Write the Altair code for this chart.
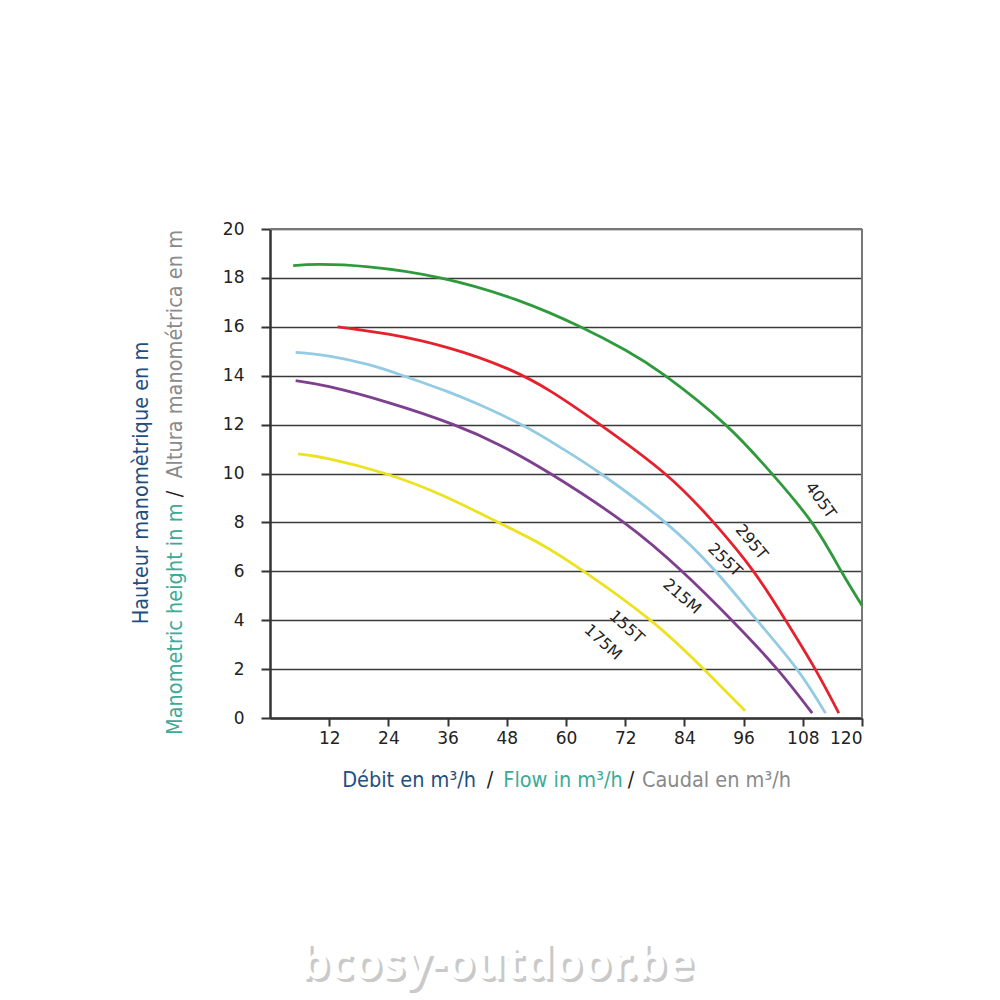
import altair as alt
import pandas as pd

# ---- curve data (flow m3/h, head m) ----
x_405T = [4.7, 10, 20, 34.5, 50, 62.9, 72, 80.1, 92.3, 101.7, 109.8, 115.8, 120]
y_405T = [18.5, 18.55, 18.45, 18.0, 17.1, 16.0, 15.05, 14.0, 12.0, 10.0, 8.0, 6.0, 4.6]

x_295T = [13.7, 24, 36, 48, 57, 66.9, 80, 89.9, 98, 104.5, 110.5, 115.3]
y_295T = [16.0, 15.7, 15.15, 14.3, 13.35, 12.0, 10.0, 8.0, 6.0, 4.0, 2.0, 0.2]

x_255T = [5.2, 12, 20, 27, 36, 42.6, 51.4, 59, 67, 80.1, 90.3, 98.7, 106.8, 112.6]
y_255T = [14.95, 14.8, 14.45, 14.0, 13.35, 12.8, 11.95, 11.05, 10.0, 8.0, 6.0, 4.0, 2.0, 0.2]

x_215M = [5.2, 12, 24, 37.2, 46.7, 56.8, 71.7, 83.5, 93.6, 102.8, 109.9]
y_215M = [13.8, 13.55, 12.9, 12.0, 11.15, 10.0, 8.0, 6.0, 4.0, 2.0, 0.2]

x_175M = [5.7, 12, 23.3, 35, 46.3, 55, 63.6, 77.1, 87.9, 96.3]
y_175M = [10.8, 10.6, 10.0, 9.1, 8.0, 7.1, 6.0, 4.0, 2.0, 0.3]

series = {
    "405T": (x_405T, y_405T),
    "295T": (x_295T, y_295T),
    "255T": (x_255T, y_255T),
    "215M": (x_215M, y_215M),
    "155T/175M": (x_175M, y_175M),
}
series_names = list(series.keys())
series_colors = ["#2f9a3c", "#e5212d", "#93cbe4", "#7d3f8e", "#ece21e"]

# curve labels (anchor in data units)
label_text = ["405T", "295T", "255T", "215M", "155T", "175M"]
label_x = [111.6, 97.6, 92.2, 83.5, 72.3, 67.5]
label_y = [8.9, 7.19, 6.46, 4.97, 3.72, 3.10]
label_angle = [54, 50, 44, 41, 42, 42]

y_ticks = list(range(0, 21, 2))
x_ticks = list(range(12, 121, 12))

rows = []
for name, (xs, ys) in series.items():
    for i, (xv, yv) in enumerate(zip(xs, ys)):
        rows.append({"serie": name, "q": xv, "h": yv, "o": i})
df = pd.DataFrame(rows)

W, H = 592, 489
TICK_FONT = "DejaVu Sans"
TITLE_FONT = "Liberation Sans Narrow, DejaVu Sans Condensed, Roboto Condensed, Roboto, sans-serif"

xscale = alt.Scale(domain=[0, 120], nice=False, zero=True)
yscale = alt.Scale(domain=[0, 20], nice=False)

lines = alt.Chart(df).mark_line(strokeWidth=2.8, interpolate="natural").encode(
    x=alt.X("q:Q", scale=xscale,
            axis=alt.Axis(values=x_ticks, title=None, grid=False, domainColor="#333",
                          domainWidth=2.5, tickColor="#333", tickWidth=2, tickSize=8,
                          labelPadding=4, labelFont=TICK_FONT, labelFontSize=17,
                          labelColor="#222")),
    y=alt.Y("h:Q", scale=yscale,
            axis=alt.Axis(values=y_ticks, title=None, grid=True, gridColor="#3a3a3a",
                          gridWidth=1.5, domainColor="#333", domainWidth=2.5,
                          tickColor="#333", tickWidth=2, tickSize=9, labelPadding=17,
                          labelFont=TICK_FONT, labelFontSize=17, labelColor="#222")),
    color=alt.Color("serie:N", scale=alt.Scale(domain=series_names, range=series_colors),
                    legend=None),
    order="o:Q",
    detail="serie:N",
)

right_border = alt.Chart(pd.DataFrame({"q": [120]})).mark_rule(
    color="#777", strokeWidth=2).encode(x=alt.X("q:Q", scale=xscale), y=alt.value(0), y2=alt.value(H))

top_border = alt.Chart(pd.DataFrame({"h": [20]})).mark_rule(
    color="#777", strokeWidth=2).encode(y=alt.Y("h:Q", scale=yscale), x=alt.value(0), x2=alt.value(W))

layers = [right_border, top_border, lines]

for t, lx, ly, la in zip(label_text, label_x, label_y, label_angle):
    layers.append(
        alt.Chart(pd.DataFrame({"t": [t], "q": [lx], "h": [ly]})).mark_text(
            font=TICK_FONT, fontSize=16, color="#222", angle=la,
            align="center", baseline="middle").encode(
            x=alt.X("q:Q", scale=xscale), y=alt.Y("h:Q", scale=yscale), text="t:N")
    )


def txt(s, px, py, color, align="center", angle=0, size=21.5, font=TITLE_FONT,
        weight="normal", opacity=1.0):
    return alt.Chart(pd.DataFrame({"t": [s]})).mark_text(
        font=font, fontSize=size, color=color, align=align, baseline="middle",
        angle=angle, fontWeight=weight, opacity=opacity).encode(
        text="t:N", x=alt.value(px), y=alt.value(py))


BLUE, TEAL, GRAY, DARK = "#1f4f82", "#3bab97", "#8a8a8a", "#222222"

# y-axis title (two lines, rotated)
layers += [
    txt("Hauteur manomètrique en m", -128, 254, BLUE, "center", 270),
    txt("Manometric height in m", -94, 506, TEAL, "left", 270),
    txt("/", -94, 265, DARK, "center", 270),
    txt("Altura manométrica en m", -94, 1, GRAY, "right", 270),
]
# x-axis title
layers += [
    txt("Débit en m³/h", 206, 552, BLUE, "right"),
    txt("/", 220, 552, DARK, "center"),
    txt("Flow in m³/h", 293, 552, TEAL, "center"),
    txt("/", 361, 552, DARK, "center"),
    txt("Caudal en m³/h", 372, 552, GRAY, "left"),
]
# watermark
layers += [
    txt("bcosy-outdoor.be", 230, 739, "#888888", "center", 0, 46, "Noto Sans", "bold", 0.45),
    txt("bcosy-outdoor.be", 227, 736, "#ffffff", "center", 0, 46, "Noto Sans", "bold"),
]

chart = alt.layer(*layers).properties(
    width=W, height=H,
    autosize=alt.AutoSizeParams(type="none"),
    padding={"left": 262, "top": 221, "right": 130, "bottom": 280},
    background="white",
).configure_view(stroke=None)

chart.save("out.html", embed_options={"renderer": "svg", "actions": False})
